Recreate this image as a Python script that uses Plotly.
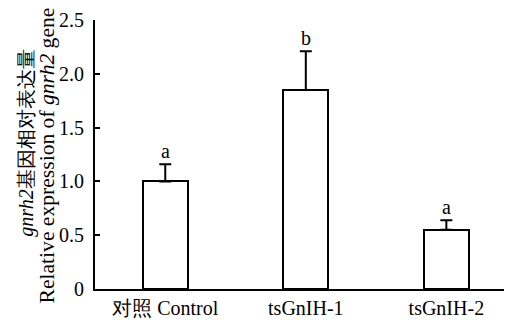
import plotly.graph_objects as go

categories = ["对照 Control", "tsGnIH-1", "tsGnIH-2"]
values = [1.0, 1.85, 0.55]
errors = [0.16, 0.36, 0.09]
letters = ["a", "b", "a"]
ytick_vals = [0, 0.5, 1.0, 1.5, 2.0, 2.5]
ytick_text = ["0", "0.5", "1.0", "1.5", "2.0", "2.5"]

FONT = "Liberation Serif"

OFF = 8  # page body margin compensation
W, H = 512 - OFF, 320 - OFF
ML, MR, MT, MB = 95 - OFF, 1, 16 - OFF, 30
PW = W - ML - MR
PH = H - MT - MB

fig = go.Figure()
fig.add_trace(go.Bar(
    x=list(range(len(categories))),
    y=values,
    width=0.32,
    marker=dict(color="white", line=dict(color="black", width=2)),
    error_y=dict(type="data", array=errors, arrayminus=[0] * len(errors),
                 symmetric=False, color="black", thickness=2, width=6),
    showlegend=False,
))

for i, (v, e, l) in enumerate(zip(values, errors, letters)):
    fig.add_annotation(x=i, y=v + e, text=l, showarrow=False,
                       xref="x", yref="y", yanchor="bottom", yshift=0,
                       font=dict(family=FONT, size=20, color="black"))

def px_x(px):
    return (px - OFF - ML) / PW

def px_y(py):
    return 1 - (py - OFF - MT) / PH

fig.add_annotation(x=px_x(27), y=px_y(142), xref="paper", yref="paper",
                   text="<i>gnrh2</i>基因相对表达量", textangle=-90,
                   showarrow=False, xanchor="center", yanchor="middle",
                   font=dict(family=FONT, size=20, color="black"))
fig.add_annotation(x=px_x(47), y=px_y(154), xref="paper", yref="paper",
                   text="Relative expression of <i>gnrh2</i> gene", textangle=-90,
                   showarrow=False, xanchor="center", yanchor="middle",
                   font=dict(family=FONT, size=21.6, color="black"))

fig.update_layout(
    width=W, height=H,
    margin=dict(l=ML, r=MR, t=MT, b=MB, pad=0),
    paper_bgcolor="white", plot_bgcolor="white",
    font=dict(family=FONT, size=20, color="black"),
    bargap=0,
)
fig.update_xaxes(
    range=[-0.5, 2.46], tickvals=list(range(len(categories))), ticktext=categories,
    showline=True, linecolor="black", linewidth=2, ticks="", showgrid=False,
    zeroline=False, ticklabeloverflow="allow",
    tickfont=dict(family=FONT, size=20, color="black"),
)
fig.update_yaxes(
    range=[0, 2.5], tickvals=ytick_vals, ticktext=ytick_text,
    showline=True, linecolor="black", linewidth=2, ticks="inside", ticklen=5,
    tickwidth=1.5, tickcolor="black", showgrid=False, zeroline=False,
    ticklabelstandoff=5, ticklabeloverflow="allow",
    tickfont=dict(family=FONT, size=20, color="black"),
)

fig.write_html("out.html")
